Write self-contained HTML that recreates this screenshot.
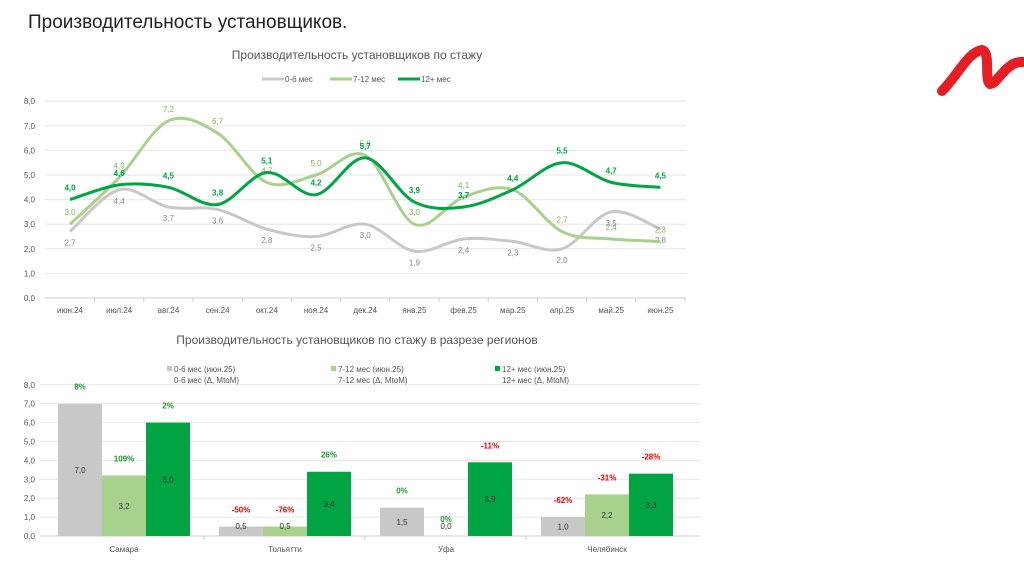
<!DOCTYPE html>
<html><head><meta charset="utf-8"><style>
body{margin:0;background:#fff;width:1024px;height:574px;overflow:hidden;font-family:"Liberation Sans",sans-serif}
svg{position:absolute;left:0;top:0}
</style></head><body>
<svg id="s" width="1024" height="574" xmlns="http://www.w3.org/2000/svg" font-family="Liberation Sans, sans-serif">
<text x="28" y="28" font-size="19" fill="#222">Производительность установщиков.</text>
<path d="M942,91 C958,75 968,52 982,50 C991,52 984,80 990,84 C998,84 1006,60 1024,62" stroke="#e31e24" stroke-width="10" fill="none" stroke-linecap="round"/>
<text x="357" y="59" font-size="12" fill="#555" text-anchor="middle">Производительность установщиков по стажу</text>
<text x="357" y="344" font-size="12" fill="#555" text-anchor="middle">Производительность установщиков по стажу в разрезе регионов</text>
<g id="lc"></g>
<g id="bc"></g>
</svg>
<script>
const months=["июн.24","июл.24","авг.24","сен.24","окт.24","ноя.24","дек.24","янв.25","фев.25","мар.25","апр.25","май.25","июн.25"];
const s06=[2.7,4.4,3.7,3.6,2.8,2.5,3.0,1.9,2.4,2.3,2.0,3.5,2.8];
const s712=[3.0,4.9,7.2,6.7,4.7,5.0,5.8,3.0,4.1,4.4,2.7,2.4,2.3];
const s12=[4.0,4.6,4.5,3.8,5.1,4.2,5.7,3.9,3.7,4.4,5.5,4.7,4.5];
const yTicks=[0,1,2,3,4,5,6,7,8];
const regions=["Самара","Тольятти","Уфа","Челябинск"];
const b06=[7.0,0.5,1.5,1.0];
const b712=[3.2,0.5,0.0,2.2];
const b12=[6.0,3.4,3.9,3.3];
const d06=["8%","-50%","0%","-62%"];
const d712=["109%","-76%","0%","-31%"];
const d12=["2%","26%","-11%","-28%"];
const NS="http://www.w3.org/2000/svg";
function mk(p,t,a){const e=document.createElementNS(NS,t);for(const k in a)e.setAttribute(k,a[k]);p.appendChild(e);return e;}
const fmt=v=>v.toFixed(1).replace('.',',');
// line chart
const lc=document.getElementById('lc');
const lx=i=>70+i*49.2, ly=v=>298-v*24.6;
yTicks.forEach(t=>{
 const g=mk(lc,'line',{x1:45,x2:686,y1:ly(t),y2:ly(t),stroke:t?'#e6e6e6':'#ccc'});
 
 
 const tx=mk(lc,'text',{x:35,y:ly(t)+3,'font-size':8,fill:'#555','text-anchor':'end'});tx.textContent=fmt(t);
 
 
});
months.forEach((m,i)=>{
 const t=mk(lc,'text',{x:lx(i),y:313,'font-size':8,fill:'#555','text-anchor':'middle'});t.textContent=m;
 
 
 const tk=mk(lc,'line',{x1:lx(i)+24.6,x2:lx(i)+24.6,y1:298,y2:302,stroke:'#ccc'});
 
 
});
function smooth(vals){
 const p=vals.map((v,i)=>[lx(i),ly(v)]);let d=`M${p[0][0]},${p[0][1]}`;
 for(let i=0;i<p.length-1;i++){const p0=p[i-1]||p[i],p1=p[i],p2=p[i+1],p3=p[i+2]||p2;
  d+=` C${p1[0]+(p2[0]-p0[0])/6},${p1[1]+(p2[1]-p0[1])/6} ${p2[0]-(p3[0]-p1[0])/6},${p2[1]-(p3[1]-p1[1])/6} ${p2[0]},${p2[1]}`;}
 return d;}
const series=[[s06,'#c8c8c8','#888',14,'normal','series-0-6'],[s712,'#a9d18e','#7cb65a',-9,'normal','series-7-12'],[s12,'#00a443','#00a443',-9,'bold','series-12plus']];
series.forEach(([vals,c,lcol,off,fw,name])=>{
 const p=mk(lc,'path',{d:smooth(vals),stroke:c,'stroke-width':3,fill:'none'});
 
 
 vals.forEach((v,i)=>{const t=mk(lc,'text',{x:lx(i),y:ly(v)+off,'font-size':8,fill:lcol,'font-weight':fw,'text-anchor':'middle'});t.textContent=fmt(v);
  
  });
});
[['0-6 мес','#c8c8c8',262],['7-12 мес','#a9d18e',330],['12+ мес','#00a443',398]].forEach(([n,c,x])=>{
 const l=mk(lc,'line',{x1:x,x2:x+22,y1:79,y2:79,stroke:c,'stroke-width':3});
 
 
 const t=mk(lc,'text',{x:x+23,y:82,'font-size':8,fill:'#555'});t.textContent=n;
 
 
});
// bar chart
const bc=document.getElementById('bc');
const by=v=>536-v*18.9, gx=i=>40+i*161;
yTicks.forEach(t=>{
 const g=mk(bc,'line',{x1:40,x2:700,y1:by(t),y2:by(t),stroke:t?'#e6e6e6':'#ccc'});
 
 
 const tx=mk(bc,'text',{x:35,y:by(t)+3,'font-size':8,fill:'#555','text-anchor':'end'});tx.textContent=fmt(t);
 
 
});
regions.forEach((r,i)=>{
 const t=mk(bc,'text',{x:gx(i)+84,y:552,'font-size':8,fill:'#555','text-anchor':'middle'});t.textContent=r;
 
 
 if(i>0){const l=mk(bc,'line',{x1:gx(i)+3,x2:gx(i)+3,y1:536,y2:540,stroke:'#ccc'});
  
  }
 [[b06,d06,'#c8c8c8'],[b712,d712,'#a9d18e'],[b12,d12,'#00a443']].forEach(([vals,ds,c],j)=>{
  const v=vals[i],x=gx(i)+18+j*44;
  const b=mk(bc,'rect',{x:x,y:by(v),width:44,height:536-by(v),fill:c});
  
  
  const vl=mk(bc,'text',{x:x+22,y:(by(v)+536)/2+3,'font-size':8,fill:'#333','text-anchor':'middle'});vl.textContent=fmt(v);
  if(v<1){vl.setAttribute('y',529);}
  
  
  const neg=ds[i].startsWith('-');
  const dl=mk(bc,'text',{x:x+22,y:by(v)-14,'font-size':8,'font-weight':'bold',fill:neg?'#e00':'#1e9a2e','text-anchor':'middle'});dl.textContent=ds[i];
  
  
 });
});
[['0-6 мес','#c8c8c8',167],['7-12 мес','#a9d18e',331],['12+ мес','#00a443',495]].forEach(([n,c,x])=>{
 const r=mk(bc,'rect',{x:x,y:366,width:5,height:5,fill:c});
 
 
 const t=mk(bc,'text',{x:x+7,y:372,'font-size':8,fill:'#555'});t.textContent=n+' (июн.25)';
 
 
 const t2=mk(bc,'text',{x:x+7,y:383,'font-size':8,fill:'#555'});t2.textContent=n+' (Δ, MtoM)';
 
 
});
</script>
</body></html>
